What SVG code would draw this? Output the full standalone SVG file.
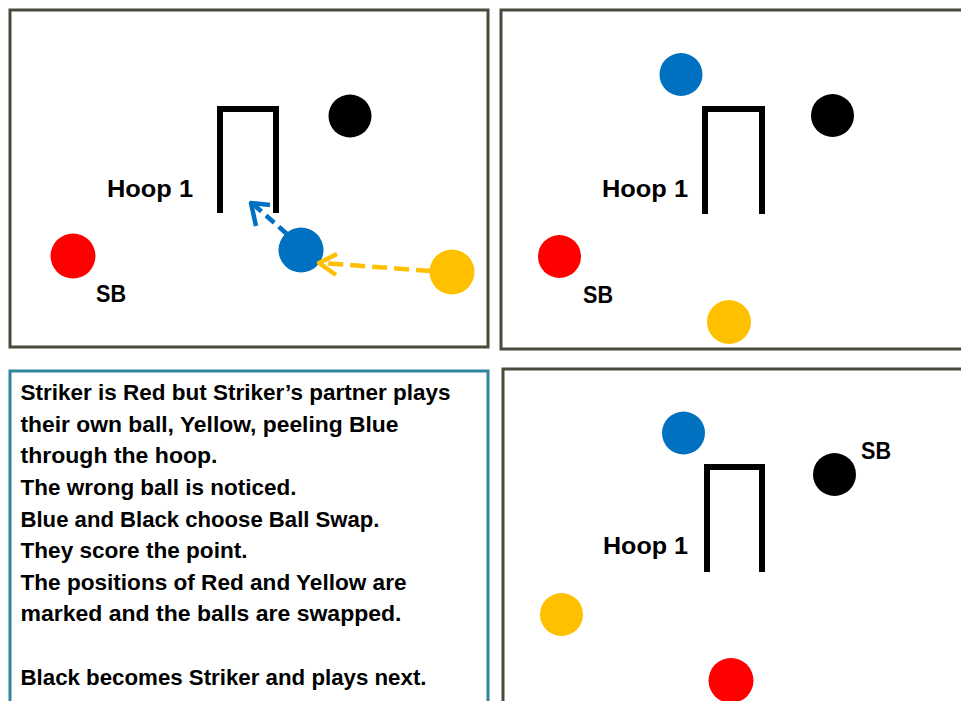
<svg xmlns="http://www.w3.org/2000/svg" width="961" height="701" viewBox="0 0 961 701">
<defs>
<style>
.panel{fill:#fff;stroke:#4a4a3c;stroke-width:3}
.tbox{fill:#fff;stroke:#31859c;stroke-width:3}
.hoop{fill:none;stroke:#000;stroke-width:6;stroke-linejoin:miter;stroke-linecap:butt}
.lbl{font-family:"Liberation Sans",Arial,sans-serif;font-weight:bold;fill:#000}
.hl{font-size:24px}
.sb{font-size:24px}
.txt{font-family:"Liberation Sans",Arial,sans-serif;font-weight:bold;font-size:22px;fill:#000}
.red{fill:#ff0000}.blue{fill:#0070c0}.black{fill:#000}.yellow{fill:#ffc000}
</style>
</defs>
<rect width="961" height="701" fill="#fff"/>

<g id="panel1">
<rect class="panel" x="10" y="10" width="478" height="337"/>
<path class="hoop" d="M220,213 V109 H276 V213"/>
<text class="lbl hl" x="107" y="197" textLength="86" lengthAdjust="spacingAndGlyphs">Hoop 1</text>
<circle class="black" cx="350" cy="116" r="21.5"/>
<circle class="red" cx="73" cy="256" r="22.5"/>
<text class="lbl sb" x="96" y="302" textLength="30" lengthAdjust="spacingAndGlyphs">SB</text>
<circle class="blue" cx="301" cy="250" r="22.5"/>
<circle class="yellow" cx="452" cy="272" r="22.5"/>
</g>

<g id="connectors" fill="none" stroke-linecap="butt" stroke-linejoin="round">
<path d="M431,271 L322,263" stroke="#ffc000" stroke-width="4.5" stroke-dasharray="15,7"/>
<path d="M337,254 L319,263 L336,275" stroke="#ffc000" stroke-width="4.5"/>
<path d="M287,234 L253,204" stroke="#0070c0" stroke-width="4.5" stroke-dasharray="11,6"/>
<path d="M256,226 L251,203 L270,205" stroke="#0070c0" stroke-width="4.5"/>
</g>

<g id="panel2">
<rect class="panel" x="501" y="10" width="470" height="339"/>
<circle class="blue" cx="681" cy="74.5" r="21.5"/>
<path class="hoop" d="M705,214 V109 H762 V214"/>
<circle class="black" cx="832.5" cy="115.5" r="21.5"/>
<text class="lbl hl" x="602" y="197" textLength="86" lengthAdjust="spacingAndGlyphs">Hoop 1</text>
<circle class="red" cx="559.5" cy="256.5" r="21.5"/>
<text class="lbl sb" x="583" y="303" textLength="30" lengthAdjust="spacingAndGlyphs">SB</text>
<circle class="yellow" cx="729" cy="322" r="22"/>
</g>

<g id="panel3">
<rect class="tbox" x="10" y="371" width="478" height="340"/>
<text class="txt" x="20.5" y="400" textLength="430" lengthAdjust="spacingAndGlyphs">Striker is Red but Striker’s partner plays</text>
<text class="txt" x="20.5" y="432" textLength="378" lengthAdjust="spacingAndGlyphs">their own ball, Yellow, peeling Blue</text>
<text class="txt" x="20.5" y="463" textLength="197" lengthAdjust="spacingAndGlyphs">through the hoop.</text>
<text class="txt" x="20.5" y="495" textLength="276" lengthAdjust="spacingAndGlyphs">The wrong ball is noticed.</text>
<text class="txt" x="20.5" y="527" textLength="359" lengthAdjust="spacingAndGlyphs">Blue and Black choose Ball Swap.</text>
<text class="txt" x="20.5" y="558" textLength="227" lengthAdjust="spacingAndGlyphs">They score the point.</text>
<text class="txt" x="20.5" y="590" textLength="386" lengthAdjust="spacingAndGlyphs">The positions of Red and Yellow are</text>
<text class="txt" x="20.5" y="621" textLength="381" lengthAdjust="spacingAndGlyphs">marked and the balls are swapped.</text>
<text class="txt" x="20.5" y="685" textLength="406" lengthAdjust="spacingAndGlyphs">Black becomes Striker and plays next.</text>
</g>

<g id="panel4">
<rect class="panel" x="503" y="369" width="470" height="345"/>
<circle class="blue" cx="683.5" cy="433" r="21.5"/>
<text class="lbl sb" x="861" y="459" textLength="30" lengthAdjust="spacingAndGlyphs">SB</text>
<circle class="black" cx="834.5" cy="474.5" r="21.5"/>
<path class="hoop" d="M707,572 V467 H762 V572"/>
<text class="lbl hl" x="603" y="554" textLength="85" lengthAdjust="spacingAndGlyphs">Hoop 1</text>
<circle class="yellow" cx="561.5" cy="614.5" r="21.5"/>
<circle class="red" cx="731" cy="680.5" r="22.5"/>
</g>
</svg>
